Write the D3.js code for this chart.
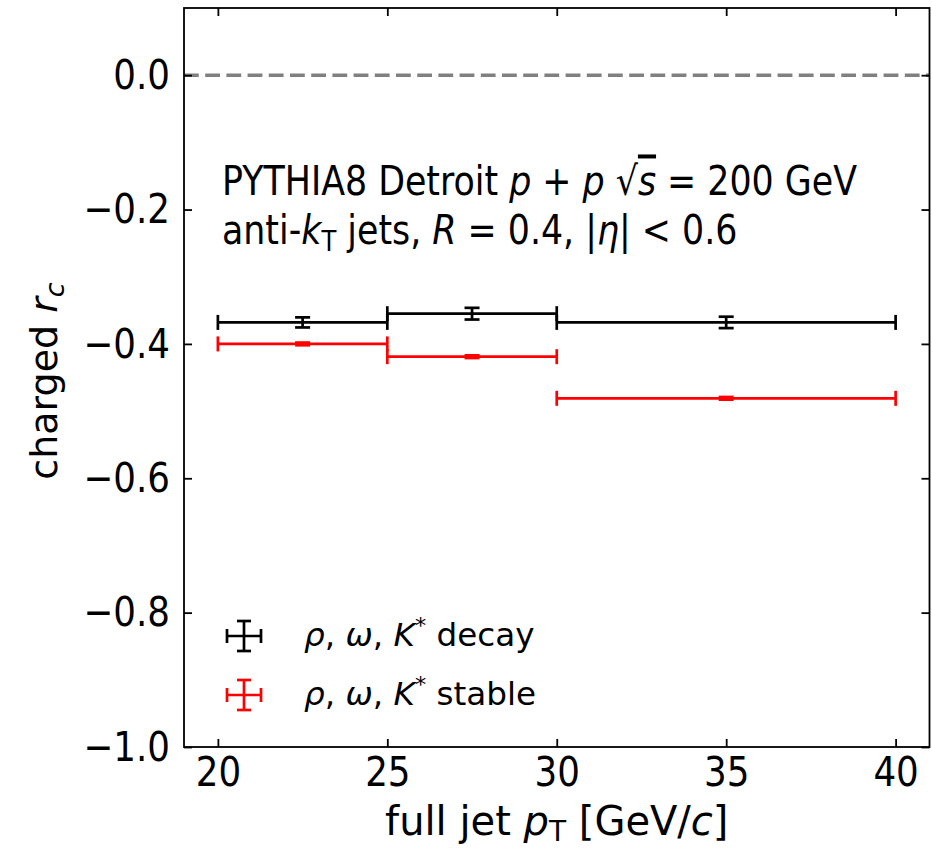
<!DOCTYPE html>
<html>
<head>
<meta charset="utf-8">
<script src="https://cdn.jsdelivr.net/npm/d3@7"></script>
<style>
  html, body { margin: 0; padding: 0; background: #fff; }
  svg { display: block; }
  text { font-family: "DejaVu Sans", sans-serif; fill: #000; }
</style>
</head>
<body>
<svg id="chart" width="932" height="848"></svg>
<script>
// Jet pT bins (GeV/c)
const binLow  = [20, 25, 30];
const binHigh = [25, 30, 40];
const binCenter = [22.5, 27.5, 35];

// charged r_c with resonances decayed
const decayVals = [-0.368, -0.355, -0.368];
const decayErrs = [0.0075, 0.0087, 0.0085];

// charged r_c with resonances kept stable
const stableVals = [-0.400, -0.419, -0.481];
const stableErrs = [0.002, 0.002, 0.002];

const xTicks = [20, 25, 30, 35, 40];
const yTicks = [-1.0, -0.8, -0.6, -0.4, -0.2, 0.0];

const svg = d3.select("#chart");
const pLeft = 184, pRight = 929.5, pTop = 8, pBottom = 747;
const narrow = 0.87;   // horizontal squeeze applied to the glyphs

const x = d3.scaleLinear().domain([19, 41]).range([pLeft, pRight]);
const y = d3.scaleLinear().domain([-1.0, 0.1]).range([pBottom, pTop]);

// zero reference line
svg.append("line")
  .attr("x1", pLeft).attr("x2", pRight)
  .attr("y1", y(0)).attr("y2", y(0))
  .attr("stroke", "#808080").attr("stroke-width", 3.5)
  .attr("stroke-dasharray", "14.8 6.4");

// error bar series
const series = [
  { vals: decayVals, errs: decayErrs, color: "#000000" },
  { vals: stableVals, errs: stableErrs, color: "#ff0000" }
];
const cap = 7.5, lw = 2.7;

series.forEach(s => {
  const g = svg.append("g").attr("stroke", s.color).attr("stroke-width", lw).attr("fill", "none");
  s.vals.forEach((v, i) => {
    const yc = y(v);
    // horizontal bin-width bar
    g.append("line").attr("x1", x(binLow[i])).attr("x2", x(binHigh[i])).attr("y1", yc).attr("y2", yc);
    g.append("line").attr("x1", x(binLow[i])).attr("x2", x(binLow[i])).attr("y1", yc - cap).attr("y2", yc + cap);
    g.append("line").attr("x1", x(binHigh[i])).attr("x2", x(binHigh[i])).attr("y1", yc - cap).attr("y2", yc + cap);
    // vertical statistical error
    const xc = x(binCenter[i]);
    const y1 = y(v + s.errs[i]), y2 = y(v - s.errs[i]);
    g.append("line").attr("x1", xc).attr("x2", xc).attr("y1", y1).attr("y2", y2);
    g.append("line").attr("x1", xc - cap).attr("x2", xc + cap).attr("y1", y1).attr("y2", y1);
    g.append("line").attr("x1", xc - cap).attr("x2", xc + cap).attr("y1", y2).attr("y2", y2);
  });
});

// axes with inward ticks on all four sides
const tickLen = 8, tickFont = 41;
const axB = svg.append("g").attr("transform", `translate(0,${pBottom})`)
  .call(d3.axisBottom(x).tickValues(xTicks).tickFormat(d3.format("d")).tickSizeInner(-tickLen).tickSizeOuter(0).tickPadding(10));
const axT = svg.append("g").attr("transform", `translate(0,${pTop})`)
  .call(d3.axisTop(x).tickValues(xTicks).tickFormat("").tickSizeInner(-tickLen).tickSizeOuter(0));
const fmtY = d => d3.format(".1f")(d).replace("-", "\u2212");
const axL = svg.append("g").attr("transform", `translate(${pLeft},0)`)
  .call(d3.axisLeft(y).tickValues(yTicks).tickFormat(fmtY).tickSizeInner(-tickLen).tickSizeOuter(0).tickPadding(14));
const axR = svg.append("g").attr("transform", `translate(${pRight},0)`)
  .call(d3.axisRight(y).tickValues(yTicks).tickFormat("").tickSizeInner(-tickLen).tickSizeOuter(0));

[axB, axT, axL, axR].forEach(a => {
  a.select(".domain").remove();
  a.selectAll(".tick line").attr("stroke", "#000").attr("stroke-width", 1.8);
  a.selectAll(".tick text").attr("font-size", tickFont).attr("font-family", "DejaVu Sans").attr("fill", "#000")
    .attr("transform", `scale(${narrow},1)`);
});
axL.selectAll(".tick text").attr("x", -14 / narrow);

// frame
svg.append("rect")
  .attr("x", pLeft).attr("y", pTop).attr("width", pRight - pLeft).attr("height", pBottom - pTop)
  .attr("fill", "none").attr("stroke", "#000").attr("stroke-width", 1.8);

// text placed at (tx, ty) with squeezed glyphs
function label(tx, ty, size, sx, rot) {
  return svg.append("text")
    .attr("transform", `translate(${tx},${ty})${rot ? " rotate(" + rot + ")" : ""} scale(${sx},1)`)
    .attr("font-size", size);
}

// axis titles
const xl = label((pLeft + pRight) / 2, 835, 40, 1.0).attr("text-anchor", "middle");
xl.append("tspan").text("full jet ");
xl.append("tspan").attr("font-style", "italic").text("p");
xl.append("tspan").attr("font-size", 28).attr("dy", 6).text("T");
xl.append("tspan").attr("dy", -6).text(" [GeV/");
xl.append("tspan").attr("font-style", "italic").text("c");
xl.append("tspan").text("]");

const yl = label(57, 381, 38, 1, -90).attr("text-anchor", "middle");
yl.append("tspan").text("charged ");
yl.append("tspan").attr("font-style", "italic").text("r");
yl.append("tspan").attr("font-style", "italic").attr("font-size", 27).attr("dy", 7).text("c");

// annotation
const a1 = label(222, 195, 40, narrow);
a1.append("tspan").text("PYTHIA8 Detroit ");
a1.append("tspan").attr("font-style", "italic").text("p");
a1.append("tspan").text(" + ");
a1.append("tspan").attr("font-style", "italic").text("p");
a1.append("tspan").text("  \u221A");
a1.append("tspan").attr("font-style", "italic").style("text-decoration", "overline").text("s");
a1.append("tspan").text(" = 200 GeV");

const a2 = label(222, 244, 40, narrow);
a2.append("tspan").text("anti-");
a2.append("tspan").attr("font-style", "italic").text("k");
a2.append("tspan").attr("font-size", 28).attr("dy", 7).text("T");
a2.append("tspan").attr("dy", -7).text(" jets, ");
a2.append("tspan").attr("font-style", "italic").text("R");
a2.append("tspan").text(" = 0.4, |");
a2.append("tspan").attr("font-style", "italic").text("\u03B7");
a2.append("tspan").text("| < 0.6");

// legend
const legend = [
  { label: "decay", color: "#000000", yy: 636 },
  { label: "stable", color: "#ff0000", yy: 695 }
];
legend.forEach(l => {
  const g = svg.append("g").attr("stroke", l.color).attr("stroke-width", lw);
  const cx = 244, hw = 17, hh = 15, c = 7;
  g.append("line").attr("x1", cx - hw).attr("x2", cx + hw).attr("y1", l.yy).attr("y2", l.yy);
  g.append("line").attr("x1", cx - hw).attr("x2", cx - hw).attr("y1", l.yy - c).attr("y2", l.yy + c);
  g.append("line").attr("x1", cx + hw).attr("x2", cx + hw).attr("y1", l.yy - c).attr("y2", l.yy + c);
  g.append("line").attr("x1", cx).attr("x2", cx).attr("y1", l.yy - hh).attr("y2", l.yy + hh);
  g.append("line").attr("x1", cx - c).attr("x2", cx + c).attr("y1", l.yy - hh).attr("y2", l.yy - hh);
  g.append("line").attr("x1", cx - c).attr("x2", cx + c).attr("y1", l.yy + hh).attr("y2", l.yy + hh);

  const t = label(304, l.yy + 10, 32, 1.02);
  t.append("tspan").attr("font-style", "italic").text("\u03C1");
  t.append("tspan").text(", ");
  t.append("tspan").attr("font-style", "italic").text("\u03C9");
  t.append("tspan").text(", ");
  t.append("tspan").attr("font-style", "italic").text("K");
  t.append("tspan").attr("font-size", 22).attr("dy", -13).text("*");
  t.append("tspan").attr("dy", 13).text("  " + l.label);
});
</script>
</body>
</html>
